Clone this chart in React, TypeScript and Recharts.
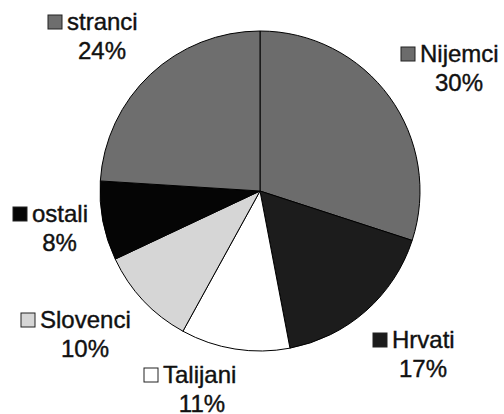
import React from "react";
import { PieChart, Pie, Cell } from "recharts";

const names = ["Nijemci", "Hrvati", "Talijani", "Slovenci", "ostali", "stranci"];
const shares = [30, 17, 11, 10, 8, 24];
const fills = ["#6c6c6c", "#1c1c1c", "#ffffff", "#d6d6d6", "#050505", "#6e6e6e"];

const data = names.map((name, i) => ({ name, value: shares[i] }));

// label anchor offsets (text start x, name baseline) relative to pie centre
const labelOffsets: [number, number][] = [
  [160, -129],
  [132, 157],
  [-97, 192],
  [-220, 137],
  [-228, 31],
  [-193, -161],
];

const FONT = "'Liberation Sans', Arial, Helvetica, sans-serif";
const FS = 24;

function renderLabel(props: any) {
  const { cx, cy, index, name, value } = props;
  const [dx, dy] = labelOffsets[index];
  const x = cx + dx;
  const y = cy + dy;
  const widths: Record<string, number> = {
    Nijemci: 78,
    Hrvati: 62,
    Talijani: 78,
    Slovenci: 90,
    ostali: 55,
    stranci: 70,
  };
  const w = widths[name] ?? 60;
  return (
    <g key={`lbl-${index}`}>
      <rect
        x={x - 19}
        y={y - 15}
        width={14}
        height={14}
        fill={fills[index]}
        stroke="#222"
        strokeWidth={1}
      />
      <text x={x} y={y} fontFamily={FONT} fontSize={FS} fill="#111" stroke="#111" strokeWidth={0.4} textAnchor="start">
        {name}
      </text>
      <text x={x + w / 2} y={y + 29} fontFamily={FONT} fontSize={FS} fill="#111" stroke="#111" strokeWidth={0.4} textAnchor="middle">
        {`${value}%`}
      </text>
    </g>
  );
}

export default function App() {
  return (
    <div style={{ position: "absolute", left: 0, top: 0, background: "#fff" }}>
      <PieChart width={504} height={414} margin={{ top: 0, right: 0, bottom: 0, left: 0 }}>
        <Pie
          data={data}
          dataKey="value"
          nameKey="name"
          cx={260}
          cy={191}
          outerRadius={160}
          startAngle={90}
          endAngle={-270}
          stroke="#000"
          strokeWidth={1}
          isAnimationActive={false}
          labelLine={false}
          label={renderLabel}
        >
          {data.map((d, i) => (
            <Cell key={d.name} fill={fills[i]} />
          ))}
        </Pie>
      </PieChart>
    </div>
  );
}
